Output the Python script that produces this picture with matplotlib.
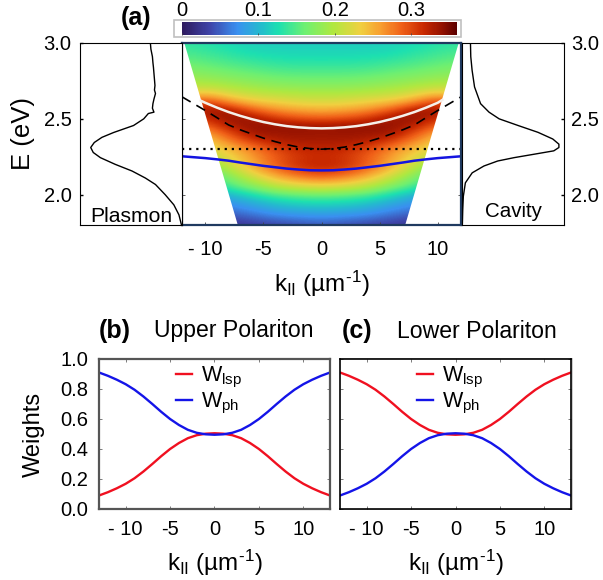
import numpy as np
import matplotlib
matplotlib.use('Agg')
import matplotlib.pyplot as plt
from matplotlib.colors import LinearSegmentedColormap
from matplotlib.patches import Polygon, Rectangle

plt.rcParams['font.family'] = ['Liberation Sans', 'DejaVu Sans']
plt.rcParams['mathtext.fontset'] = 'custom'
plt.rcParams['mathtext.rm'] = 'Liberation Sans'
plt.rcParams['mathtext.default'] = 'regular'

W, H = 603, 580

# heatmap table (k >= 0 side, mirrored below)
map_k = [0, 2, 4, 6, 8, 10, 12]
map_E = [3.00, 2.95, 2.90, 2.85, 2.80, 2.75, 2.70, 2.65, 2.60, 2.55, 2.50, 2.45, 2.40,
         2.35, 2.30, 2.25, 2.20, 2.15, 2.10, 2.05, 2.00, 1.95, 1.90, 1.85, 1.80]
map_I = [[.115, .115, .115, .117, .122, .130, .135],
         [.118, .118, .118, .120, .128, .136, .142],
         [.124, .124, .126, .130, .138, .146, .152],
         [.136, .136, .138, .144, .150, .158, .165],
         [.150, .150, .152, .158, .165, .172, .176],
         [.165, .165, .168, .174, .181, .188, .192],
         [.182, .182, .186, .192, .201, .213, .208],
         [.203, .205, .210, .215, .230, .258, .240],
         [.225, .228, .237, .248, .275, .315, .285],
         [.255, .260, .270, .295, .335, .335, .305],
         [.290, .295, .310, .335, .340, .315, .295],
         [.335, .338, .340, .340, .325, .285, .265],
         [.335, .338, .335, .335, .295, .255, .235],
         [.330, .330, .325, .305, .270, .235, .215],
         [.322, .318, .302, .275, .245, .215, .195],
         [.316, .310, .290, .260, .228, .200, .180],
         [.320, .315, .290, .255, .212, .180, .160],
         [.310, .298, .272, .235, .188, .150, .130],
         [.272, .260, .238, .202, .165, .130, .110],
         [.222, .216, .200, .170, .140, .110, .090],
         [.165, .160, .150, .125, .100, .085, .070],
         [.125, .122, .112, .095, .078, .060, .050],
         [.098, .095, .088, .072, .060, .050, .040],
         [.072, .068, .062, .050, .040, .030, .030],
         [.045, .040, .035, .030, .025, .020, .020]]

# edge of the measured wedge
wedge_E = [3.0, 1.8]
wedge_k = [11.8, 7.2]

disp_k = [-12, -11, -10, -9, -8, -7, -6, -5, -4, -3, -2, -1, 0, 1, 2, 3, 4, 5, 6, 7, 8, 9, 10, 11, 12]
cavity_E = [2.645, 2.60, 2.555, 2.508, 2.46, 2.428, 2.40, 2.373, 2.35, 2.33, 2.314, 2.304, 2.30,
            2.304, 2.314, 2.33, 2.35, 2.373, 2.40, 2.428, 2.46, 2.508, 2.555, 2.60, 2.645]
lower_E = [2.253, 2.247, 2.241, 2.233, 2.224, 2.212, 2.201, 2.19, 2.181, 2.172, 2.166, 2.161, 2.16,
           2.161, 2.166, 2.172, 2.181, 2.19, 2.201, 2.212, 2.224, 2.233, 2.241, 2.247, 2.253]
upper_k = [-10.4, -10, -9, -8, -7, -6, -5, -4, -3, -2, -1, 0, 1, 2, 3, 4, 5, 6, 7, 8, 9, 10, 10.4]
upper_E = [2.62, 2.606, 2.574, 2.545, 2.52, 2.498, 2.479, 2.464, 2.452, 2.444, 2.439, 2.437,
           2.439, 2.444, 2.452, 2.464, 2.479, 2.498, 2.52, 2.545, 2.574, 2.606, 2.625]
plasmon_level = 2.30

# side spectra
plasmon_E = [3.0, 2.96, 2.91, 2.87, 2.84, 2.80, 2.76, 2.72, 2.69, 2.667, 2.63, 2.60, 2.57, 2.544,
             2.535, 2.50, 2.456, 2.41, 2.378, 2.344, 2.311, 2.278, 2.244, 2.2, 2.156, 2.11,
             2.067, 2.0, 1.933, 1.867, 1.80]
plasmon_I = [.31, .305, .29, .285, .28, .275, .27, .265, .27, .26, .275, .285, .29, .275,
             .33, .375, .475, .67, .785, .86, .895, .87, .80, .655, .49, .36,
             .26, .165, .08, .03, .005]
cavity_spec_E = [3.0, 2.91, 2.82, 2.71, 2.60, 2.544, 2.50, 2.456, 2.411, 2.367, 2.333, 2.311,
                 2.289, 2.267, 2.244, 2.222, 2.189, 2.144, 2.078, 1.989, 1.90, 1.80]
cavity_spec_I = [.083, .086, .099, .123, .182, .265, .364, .55, .745, .89, .95, .95,
                 .90, .71, .51, .35, .215, .10, .033, .013, .007, .003]

# weights
weight_k = list(range(-13, 14))
up_lsp = [.09, .112, .138, .168, .205, .25, .30, .352, .40, .44, .472, .492, .502, .505,
          .502, .492, .472, .44, .40, .352, .30, .25, .205, .168, .138, .112, .09]
up_ph = [.91, .888, .862, .832, .795, .75, .70, .648, .60, .56, .528, .508, .498, .495,
         .498, .508, .528, .56, .60, .648, .70, .75, .795, .832, .862, .888, .91]
lo_lsp = [.91, .888, .862, .832, .795, .75, .70, .648, .60, .56, .528, .508, .498, .495,
          .498, .508, .528, .56, .60, .648, .70, .75, .795, .832, .862, .888, .91]
lo_ph = [.09, .112, .138, .168, .205, .25, .30, .352, .40, .44, .472, .492, .502, .505,
         .502, .492, .472, .44, .40, .352, .30, .25, .205, .168, .138, .112, .09]

cbar_ticks = [0, 0.1, 0.2, 0.3]
E_ticks = [2.0, 2.5, 3.0]
k_ticks = [-10, -5, 0, 5, 10]
k_labels = ['- 10', '-5', '0', '5', '10']
w_ticks = [0.0, 0.2, 0.4, 0.6, 0.8, 1.0]

cmap = LinearSegmentedColormap.from_list('spec', [
    (0.00, '#2e1a5e'), (0.10, '#3f44a8'), (0.20, '#3a90f0'), (0.28, '#25b8d0'),
    (0.35, '#1de0b0'), (0.45, '#70f070'), (0.55, '#b0e840'), (0.65, '#f0d040'),
    (0.72, '#f8a030'), (0.80, '#f06018'), (0.88, '#c82800'), (0.95, '#901000'),
    (1.00, '#5c0000')])


def box(x0, y0, x1, y1):
    # pixel box, y from the top of the picture
    return fig.add_axes([x0 / W, 1 - y1 / H, (x1 - x0) / W, (y1 - y0) / H])


fig = plt.figure(figsize=(W / 100, H / 100), dpi=100)
k_label = r'k$_{\mathrm{II}}$ (µm$^{\text{-1}}$)'
fs = 14.5

# colour bar frame and the grey edge of panel c go behind everything
fig.add_artist(Rectangle((174 / W, 1 - 37 / H), 287 / W, 17 / H, transform=fig.transFigure,
                         fc='white', ec='#c0c0c0', lw=1.2, zorder=-1))
fig.add_artist(Rectangle((340 / W, 1 - 510 / H), 233 / W, 152 / H, transform=fig.transFigure,
                         fc='#cccccc', ec='none', zorder=-1))

# main map
ax = box(182, 43, 461, 225)
half = np.array(map_I)
full = np.hstack([half[:, :0:-1], half])
dk = map_k[1] - map_k[0]
dE = map_E[0] - map_E[1]
im = ax.imshow(full, cmap=cmap, vmin=0, vmax=0.36, aspect='auto', interpolation='bicubic',
               extent=[-map_k[-1] - dk / 2, map_k[-1] + dk / 2, map_E[-1] - dE / 2, map_E[0] + dE / 2])
clip = Polygon(list(zip([-wedge_k[0], wedge_k[0], wedge_k[1], -wedge_k[1]],
                        [wedge_E[0], wedge_E[0], wedge_E[1], wedge_E[1]])),
               transform=ax.transData, fc='none', ec='none')
ax.add_patch(clip)
im.set_clip_path(clip)
ax.plot(upper_k, upper_E, color='#f5f0ea', lw=1.8)
ax.plot(disp_k, cavity_E, color='black', lw=1.2, dashes=(6, 4))
ax.plot([disp_k[0], disp_k[-1]], [plasmon_level, plasmon_level], color='black', lw=1.6, dashes=(1, 2.2))
ax.plot(disp_k, lower_E, color='#1414e0', lw=1.8)
ax.set_xlim(-12, 12)
ax.set_ylim(1.8, 3.0)
ax.set_xticks(k_ticks, k_labels, fontsize=fs)
ax.set_yticks(E_ticks, [])
ax.tick_params(direction='in', length=2, width=0.6, color='#444444', pad=11, top=False, right=True)
for s in ax.spines.values():
    s.set_color('#1f3a60')
    s.set_linewidth(1.6)
ax.set_xlabel(k_label, fontsize=17.5, labelpad=7)

# plasmon spectrum
ax_p = box(80, 43, 182, 225)
ax_p.plot(plasmon_I, plasmon_E, color='black', lw=1.0)
ax_p.set_xlim(1, 0)
ax_p.set_ylim(1.8, 3.0)
ax_p.set_xticks([])
ax_p.set_yticks(E_ticks, ['2.0', '2.5', '3.0'], fontsize=fs)
ax_p.tick_params(direction='in', length=2, width=1, pad=6)
ax_p.set_ylabel('E (eV)', fontsize=18.5, labelpad=6)
ax_p.text(0.5, 0.016, 'Plasmon', transform=ax_p.transAxes, ha='center', va='baseline', fontsize=15.2)

# cavity spectrum
ax_c = box(462, 43, 564, 225)
ax_c.plot(cavity_spec_I, cavity_spec_E, color='black', lw=1.0)
ax_c.set_xlim(0, 1)
ax_c.set_ylim(1.8, 3.0)
ax_c.set_xticks([])
ax_c.yaxis.tick_right()
ax_c.set_yticks(E_ticks, ['2.0', '2.5', '3.0'], fontsize=fs)
ax_c.tick_params(direction='in', length=2, width=1, pad=5)
ax_c.text(0.5, 0.044, 'Cavity', transform=ax_c.transAxes, ha='center', va='baseline', fontsize=14.8)

# colour bar
cax = box(182, 22, 457, 35)
cb = fig.colorbar(im, cax=cax, orientation='horizontal')
cb.set_ticks(cbar_ticks, labels=['0', '0.1', '0.2', '0.3'])
cb.ax.tick_params(direction='in', length=1.5, width=0.6, color='#444444', pad=1.5, labelsize=fs,
                  top=False, bottom=True, labeltop=True, labelbottom=False)
cb.outline.set_visible(False)

fig.text(136 / W, 1 - 18 / H, '(a)', fontsize=18, fontweight='bold', ha='center', va='center')

# weights panels
panels = [(99, 330, up_lsp, up_ph, '#555555', 1.6),
          (340, 571, lo_lsp, lo_ph, 'black', 1.2)]
for i, (x0, x1, lsp, ph, edge, lw) in enumerate(panels):
    a = box(x0, 359, x1, 509)
    l1, = a.plot(weight_k, lsp, color='#f01020', lw=1.7)
    l2, = a.plot(weight_k, ph, color='#1414e8', lw=1.7)
    a.set_xlim(-13, 13)
    a.set_ylim(0, 1)
    a.set_xticks(k_ticks, k_labels, fontsize=fs)
    if i == 0:
        a.set_yticks(w_ticks, ['%.1f' % v for v in w_ticks], fontsize=fs)
        a.set_ylabel('Weights', fontsize=17, labelpad=11)
    else:
        a.set_yticks(w_ticks, [])
    a.tick_params(direction='in', length=2, width=0.6, color='#666666', top=True, right=True, pad=8)
    a.set_xlabel(k_label, fontsize=17.5, labelpad=6)
    for s in a.spines.values():
        s.set_color(edge)
        s.set_linewidth(lw)
    a.legend([l1, l2], ['W$_{lsp}$', 'W$_{ph}$'], loc='upper center', bbox_to_anchor=(0.475, 1.09),
             frameon=False, fontsize=15.5, handlelength=0.75, labelspacing=0.05, handletextpad=0.4)

fig.text(115 / W, 1 - 331 / H, '(b)', fontsize=18, fontweight='bold', ha='center', va='center')
fig.text(234 / W, 1 - 331 / H, 'Upper Polariton', fontsize=16.6, ha='center', va='center')
fig.text(357 / W, 1 - 331 / H, '(c)', fontsize=18, fontweight='bold', ha='center', va='center')
fig.text(477 / W, 1 - 331 / H, 'Lower Polariton', fontsize=16.6, ha='center', va='center')

fig.savefig('out.png', dpi=100)
